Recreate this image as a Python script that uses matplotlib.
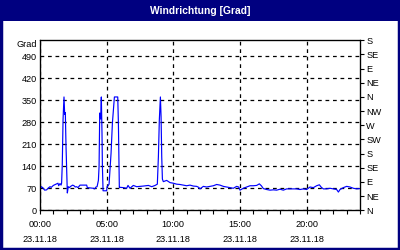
import matplotlib
matplotlib.use("Agg")
import matplotlib.pyplot as plt
from matplotlib.patches import Rectangle

# wind direction samples (hours since 00:00, degrees)
hours = [
    0.0, 0.1, 0.2, 0.35, 0.5, 0.6, 0.75, 0.85, 1.0, 1.1, 1.25, 1.35, 1.4, 1.5, 1.58, 1.62,
    1.67, 1.73, 1.8, 1.85, 1.9, 1.95, 2.05, 2.12, 2.2, 2.3, 2.45, 2.55, 2.65, 2.75, 2.85,
    3.0, 3.25, 3.5, 3.55, 3.8, 4.0, 4.1, 4.2, 4.28, 4.38, 4.43, 4.48, 4.55, 4.6, 4.65,
    4.68, 4.73, 5.0, 5.03, 5.1, 5.18, 5.25, 5.33, 5.43, 5.58, 5.83, 5.88, 5.95, 6.0,
    6.25, 6.5, 6.6, 6.75, 7.0, 7.25, 7.5, 7.75, 8.13, 8.38, 8.63, 8.8,
    8.88, 8.95, 9.03, 9.08, 9.13, 9.18, 9.25, 9.5, 9.75,
    10.0, 10.25, 10.5, 10.75, 11.0, 11.25, 11.5, 11.75, 11.9, 12.0, 12.25, 12.5, 12.75,
    13.0, 13.25, 13.5, 13.75, 14.0, 14.25, 14.5, 14.75, 14.9, 15.0, 15.25, 15.5, 15.75,
    16.0, 16.25, 16.45, 16.6, 16.75, 17.0, 17.25, 17.5, 17.75, 18.0, 18.25, 18.5, 18.75,
    19.0, 19.25, 19.5, 19.75, 20.0, 20.25, 20.5, 20.75, 20.95, 21.1, 21.25, 21.5, 21.75,
    22.0, 22.25, 22.38, 22.5, 22.75, 23.0, 23.25, 23.5, 23.75, 24.0,
]
degrees = [
    68, 75, 72, 64, 65, 70, 75, 73, 79, 81, 84, 86, 78, 85, 80, 86,
    145, 290, 360, 305, 310, 205, 55, 75, 72, 76, 80, 78, 74, 75, 72,
    80, 80, 80, 72, 71, 70, 68, 74, 75, 95, 139, 309, 290, 360, 245,
    139, 62, 62, 75, 78, 83, 128, 182, 277, 360, 360, 277, 72, 73,
    72, 70, 79, 70, 79, 75, 76, 77, 79, 75, 79, 83,
    171, 287, 360, 298, 170, 99, 91, 95, 88,
    86, 83, 82, 80, 78, 80, 77, 76, 73, 68, 76, 74, 76,
    78, 82, 80, 76, 74, 72, 70, 76, 74, 64, 70, 74, 78,
    78, 79, 84, 78, 69, 66, 64, 65, 64, 67, 64, 68, 68,
    68, 68, 66, 68, 66, 74, 72, 78, 81, 73, 68, 68, 70,
    68, 66, 58, 66, 72, 76, 74, 70, 68, 69,
]

x_ticks = [0, 5, 10, 15, 20]
x_labels = ["00:00\n23.11.18", "05:00\n23.11.18", "10:00\n23.11.18",
            "15:00\n23.11.18", "20:00\n23.11.18"]
y_ticks = [0, 70, 140, 210, 280, 350, 420, 490]
compass_ticks = [0, 45, 90, 135, 180, 225, 270, 315, 360, 405, 450, 495, 540]
compass_labels = ["N", "NE", "E", "SE", "S", "SW", "W", "NW", "N", "NE", "E", "SE", "S"]

navy = "#000080"
plt.rcParams["font.family"] = "Liberation Sans"
plt.rcParams["font.size"] = 6.6

fig = plt.figure(figsize=(4, 2.5), dpi=100)
fig.patch.set_facecolor("white")

# title bar and outer frame
fig.patches.append(Rectangle((0, 1 - 21 / 250), 1, 21 / 250, transform=fig.transFigure,
                             facecolor=navy, edgecolor="none", zorder=0))
fig.patches.append(Rectangle((0.0025, 0.004), 0.995, 0.992, transform=fig.transFigure,
                             facecolor="none", edgecolor=navy, linewidth=2.5, zorder=5))
fig.text(0.5, 1 - 10.5 / 250, "Windrichtung [Grad]", color="white", fontweight="bold",
         ha="center", va="center", fontsize=7.4)

ax = fig.add_axes([40 / 400, 1 - 210.3 / 250, 320 / 400, 170 / 250])
ax.plot(hours, degrees, color="#0000FF", linewidth=0.85, zorder=3)

ax.set_xlim(0, 24)
ax.set_ylim(0, 540)
ax.set_xticks(x_ticks)
ax.set_xticklabels(x_labels, linespacing=1.9)
ax.set_xticks(range(0, 25), minor=True)
ax.set_yticks(y_ticks)
ax.tick_params(axis="x", which="both", direction="out", length=3, width=0.8, pad=4)
ax.tick_params(axis="y", length=0, pad=2.4)
ax.grid(True, which="major", color="black", linestyle=(0, (3, 3)), linewidth=0.9)
for s in ax.spines.values():
    s.set_color("black")
    s.set_linewidth(0.9)

ax.text(-0.01, 1.0, "Grad", transform=ax.transAxes, ha="right", va="top")

ax2 = ax.twinx()
ax2.set_ylim(0, 540)
ax2.set_yticks(compass_ticks)
ax2.set_yticklabels(compass_labels)
ax2.tick_params(axis="y", direction="out", length=3, width=0.8, pad=1.5)

fig.savefig("out.png", dpi=100)
